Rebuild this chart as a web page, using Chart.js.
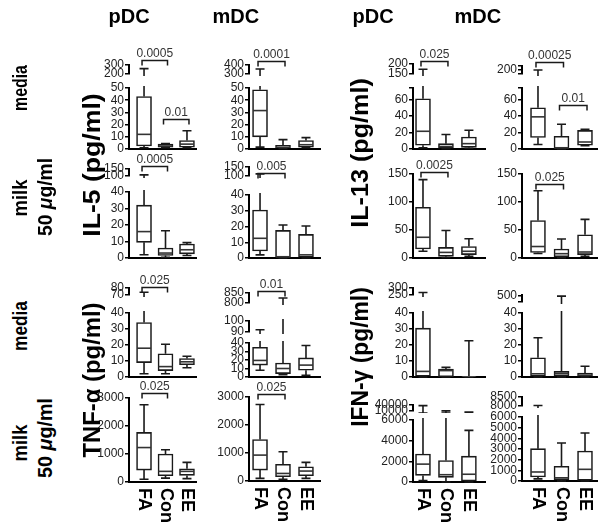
<!DOCTYPE html>
<html><head><meta charset="utf-8">
<script src="https://cdn.jsdelivr.net/npm/chart.js@4.4.1/dist/chart.umd.min.js"></script>
<style>
html,body{margin:0;padding:0;background:#fff;}
#wrap{position:relative;width:604px;height:530px;overflow:hidden;background:#fff;}
#wrap canvas{position:absolute;}
.lbl{position:absolute;left:0;top:0;white-space:nowrap;line-height:1;font-family:"Liberation Sans",Arial,Helvetica,sans-serif;font-weight:bold;color:#000;transform-origin:50% 50%;}
</style></head><body><div id="wrap"></div>
<script>
// ---------- DATA ----------
const GROUPS = ['FA', 'Con', 'EE'];
// each box: [min, q1, median, q3, max]  (pg/ml)
const IL5_PDC_MEDIA  = [[1, 2.5, 12, 43, 260], [1, 1.5, 2.5, 4, 4.5], [1, 1.5, 4, 7, 15]];
const IL5_PDC_MILK   = [[2, 9.5, 16, 32, 108], [0.5, 1.5, 3, 6, 16.5], [1.5, 2.5, 5, 8.5, 9.3]];
const IL5_MDC_MEDIA  = [[1.5, 10, 31.5, 48.5, 355], [0.5, 1, 1.5, 3, 7.7], [1, 1.5, 3.5, 7, 9.3]];
const IL5_MDC_MILK   = [[2, 4.5, 12.5, 30.5, 112], [0, 0.3, 0.8, 17.5, 21], [0, 0.5, 2, 15, 20.3]];
const IL13_PDC_MEDIA = [[1.5, 4.5, 21.5, 61, 174], [0.5, 1, 3, 6.5, 17.5], [1, 2, 6.5, 14.5, 22.7]];
const IL13_PDC_MILK  = [[12, 16, 37, 90.5, 140], [1, 3, 10, 19, 49], [3, 6, 12, 20.5, 34.4]];
const IL13_MDC_MEDIA = [[5.5, 14, 39, 50, 200], [0, 0.5, 1.5, 15.5, 30], [4, 4.5, 8.5, 22.5, 24]];
const IL13_MDC_MILK  = [[8, 10, 20.5, 67, 120], [0.5, 2, 7.7, 16, 34], [3, 6, 10.7, 41.5, 69]];
const TNF_PDC_MEDIA  = [[2, 9, 18, 34, 74], [2, 4, 6.5, 14.5, 20.5], [5.8, 7.7, 9.5, 11.5, 13]];
const TNF_PDC_MILK   = [[100, 425, 1230, 1770, 2760], [140, 225, 380, 1000, 1150], [120, 236, 380, 470, 700]];
const TNF_MDC_MEDIA  = [[8, 14, 19.5, 35, 92], [2.7, 4, 10, 16.5, 825], [2, 8, 14, 22.5, 37]];
const TNF_MDC_MILK   = [[95, 390, 925, 1480, 2730], [60, 155, 270, 595, 1045], [95, 190, 355, 510, 665]];
const IFN_PDC_MEDIA  = [[0, 0, 3.5, 30.5, 268], [0, 0.2, 4, 5, 6], [0, 0, 0, 0.3, 22.7]];
const IFN_PDC_MILK   = [[150, 640, 1730, 2700, 37000], [0, 450, 705, 2085, 10500], [0, 100, 750, 2500, 5000]];
const IFN_MDC_MEDIA  = [[0, 0, 2, 12, 24.5], [0, 0, 2, 3.5, 498], [0, 0, 1.2, 2.5, 6.7]];
const IFN_MDC_MILK   = [[200, 375, 845, 3030, 8030], [0, 125, 300, 1375, 3560], [0, 60, 1094, 2810, 4500]];

// broken-axis segments (lowest first): [min, max]
const IL5_PDC_MEDIA_RANGES  = [[0, 50], [200, 300]];
const IL5_MDC_MEDIA_RANGES  = [[0, 50], [300, 400]];
const IL13_PDC_MEDIA_RANGES = [[0, 74], [150, 200]];
const IL13_MDC_MEDIA_RANGES = [[0, 74], [190, 210]];
const IL5_PDC_MILK_RANGES   = [[0, 40], [100, 150]];
const IL5_MDC_MILK_RANGES   = [[0, 40], [100, 150]];
const IL13_PDC_MILK_RANGES  = [[0, 150]];
const IL13_MDC_MILK_RANGES  = [[0, 150]];
const TNF_PDC_MEDIA_RANGES  = [[0, 40], [70, 80]];
const TNF_MDC_MEDIA_RANGES  = [[0, 40], [90, 100], [800, 850]];
const IFN_PDC_MEDIA_RANGES  = [[0, 40], [250, 300]];
const IFN_MDC_MEDIA_RANGES  = [[0, 40], [460, 505]];
const TNF_PDC_MILK_RANGES   = [[0, 3000]];
const TNF_MDC_MILK_RANGES   = [[0, 3000]];
const IFN_PDC_MILK_RANGES   = [[0, 6000], [10000, 40000]];
const IFN_MDC_MILK_RANGES   = [[0, 6000], [8000, 8500]];

// tick values and tick labels per segment
const T_0_50 = [0, 10, 20, 30, 40, 50];
const T_0_40 = [0, 10, 20, 30, 40];
const T_IL13 = [0, 20, 40, 60, 74];
const L_IL13 = ['0', '20', '40', '60', ''];
const IL5_PDC_MEDIA_TICKS  = [T_0_50, [200, 300]];
const IL5_MDC_MEDIA_TICKS  = [T_0_50, [300, 400]];
const IL13_PDC_MEDIA_TICKS = [T_IL13, [150, 200]];
const IL13_MDC_MEDIA_TICKS = [T_IL13, [190, 200, 210]];
const IL13_MDC_MEDIA_TICKLABELS = [L_IL13, ['', '200', '']];
const IL13_PDC_MEDIA_TICKLABELS = [L_IL13, ['150', '200']];
const IL5_MILK_TICKS       = [T_0_40, [100, 150]];
const IL13_MILK_TICKS      = [[0, 50, 100, 150]];
const TNF_PDC_MEDIA_TICKS  = [T_0_40, [70, 80]];
const TNF_MDC_MEDIA_TICKS  = [T_0_40, [90, 100], [800, 850]];
const IFN_PDC_MEDIA_TICKS  = [T_0_40, [250, 300]];
const IFN_MDC_MEDIA_TICKS  = [T_0_40, [460, 500]];
const IFN_MDC_MEDIA_TICKLABELS = [T_0_40.map(String), ['', '500']];
const TNF_MILK_TICKS       = [[0, 1000, 2000, 3000]];
const IFN_PDC_MILK_TICKS   = [[0, 2000, 4000, 6000], [10000, 40000]];
const IFN_MDC_MILK_TICKS   = [[0, 1000, 2000, 3000, 4000, 5000, 6000], [8000, 8500]];

// significance brackets: groups a-b, on segment seg at value v, p label
const IL5_PDC_MEDIA_SIG  = [{a: 0, b: 1, seg: 1, v: 355, p: '0.0005'}, {a: 1, b: 2, seg: 0, v: 25, p: '0.01'}];
const IL5_MDC_MEDIA_SIG  = [{a: 0, b: 1, seg: 1, v: 444, p: '0.0001'}];
const IL13_PDC_MEDIA_SIG = [{a: 0, b: 1, seg: 1, v: 215, p: '0.025'}];
const IL13_MDC_MEDIA_SIG = [{a: 0, b: 1, seg: 1, v: 221, p: '0.00025'}, {a: 1, b: 2, seg: 0, v: 53, p: '0.01'}];
const IL5_PDC_MILK_SIG   = [{a: 0, b: 1, seg: 1, v: 171, p: '0.0005'}];
const IL5_MDC_MILK_SIG   = [{a: 0, b: 1, seg: 1, v: 117, p: '0.005'}];
const IL13_PDC_MILK_SIG  = [{a: 0, b: 1, seg: 0, v: 154, p: '0.0025'}];
const IL13_MDC_MILK_SIG  = [{a: 0, b: 1, seg: 0, v: 133, p: '0.025'}];
const TNF_PDC_MEDIA_SIG  = [{a: 0, b: 1, seg: 1, v: 82, p: '0.025'}];
const TNF_MDC_MEDIA_SIG  = [{a: 0, b: 1, seg: 2, v: 861, p: '0.01'}];
const TNF_PDC_MILK_SIG   = [{a: 0, b: 1, seg: 0, v: 3168, p: '0.025'}];
const TNF_MDC_MILK_SIG   = [{a: 0, b: 1, seg: 0, v: 3110, p: '0.025'}];

// ---------- LAYOUT ----------
const FONT = '"Liberation Sans", Arial, Helvetica, sans-serif';
Chart.defaults.font.family = FONT;
const COLS = [
  {axis: 129, right: 196, xmin: -0.70, xmax: 2.42},
  {axis: 249, right: 320, xmin: -0.48, xmax: 2.61},
  {axis: 413, right: 485, xmin: -0.435, xmax: 2.70},
  {axis: 522, right: 597, xmin: -0.68, xmax: 2.51}
];
const PANELS = [
  {col: 0, box: IL5_PDC_MEDIA, ranges: IL5_PDC_MEDIA_RANGES, ticks: IL5_PDC_MEDIA_TICKS, sig: IL5_PDC_MEDIA_SIG, px: [[149, 88], [74, 65]]},
  {col: 1, box: IL5_MDC_MEDIA, ranges: IL5_MDC_MEDIA_RANGES, ticks: IL5_MDC_MEDIA_TICKS, sig: IL5_MDC_MEDIA_SIG, px: [[149, 88], [74, 65]]},
  {col: 2, box: IL13_PDC_MEDIA, ranges: IL13_PDC_MEDIA_RANGES, ticks: IL13_PDC_MEDIA_TICKS, labels: IL13_PDC_MEDIA_TICKLABELS, sig: IL13_PDC_MEDIA_SIG, px: [[149, 88], [74, 64]]},
  {col: 3, box: IL13_MDC_MEDIA, ranges: IL13_MDC_MEDIA_RANGES, ticks: IL13_MDC_MEDIA_TICKS, labels: IL13_MDC_MEDIA_TICKLABELS, sig: IL13_MDC_MEDIA_SIG, px: [[149, 88], [74, 66]]},
  {col: 0, box: IL5_PDC_MILK, ranges: IL5_PDC_MILK_RANGES, ticks: IL5_MILK_TICKS, sig: IL5_PDC_MILK_SIG, px: [[258, 192], [176, 169]]},
  {col: 1, box: IL5_MDC_MILK, ranges: IL5_MDC_MILK_RANGES, ticks: IL5_MILK_TICKS, sig: IL5_MDC_MILK_SIG, px: [[258, 195], [176, 167]]},
  {col: 2, box: IL13_PDC_MILK, ranges: IL13_PDC_MILK_RANGES, ticks: IL13_MILK_TICKS, sig: IL13_PDC_MILK_SIG, px: [[258, 174]]},
  {col: 3, box: IL13_MDC_MILK, ranges: IL13_MDC_MILK_RANGES, ticks: IL13_MILK_TICKS, sig: IL13_MDC_MILK_SIG, px: [[258, 174]]},
  {col: 0, box: TNF_PDC_MEDIA, ranges: TNF_PDC_MEDIA_RANGES, ticks: TNF_PDC_MEDIA_TICKS, sig: TNF_PDC_MEDIA_SIG, px: [[377, 313], [295, 288]]},
  {col: 1, box: TNF_MDC_MEDIA, ranges: TNF_MDC_MEDIA_RANGES, ticks: TNF_MDC_MEDIA_TICKS, sig: TNF_MDC_MEDIA_SIG, px: [[377, 343], [332, 321], [303, 293]]},
  {col: 2, box: IFN_PDC_MEDIA, ranges: IFN_PDC_MEDIA_RANGES, ticks: IFN_PDC_MEDIA_TICKS, sig: [], px: [[377, 313], [295, 288]]},
  {col: 3, box: IFN_MDC_MEDIA, ranges: IFN_MDC_MEDIA_RANGES, ticks: IFN_MDC_MEDIA_TICKS, labels: IFN_MDC_MEDIA_TICKLABELS, sig: [], px: [[377, 313], [302, 295]]},
  {col: 0, box: TNF_PDC_MILK, ranges: TNF_PDC_MILK_RANGES, ticks: TNF_MILK_TICKS, sig: TNF_PDC_MILK_SIG, px: [[482, 398]], cats: true},
  {col: 1, box: TNF_MDC_MILK, ranges: TNF_MDC_MILK_RANGES, ticks: TNF_MILK_TICKS, sig: TNF_MDC_MILK_SIG, px: [[481, 397]], cats: true},
  {col: 2, box: IFN_PDC_MILK, ranges: IFN_PDC_MILK_RANGES, ticks: IFN_PDC_MILK_TICKS, sig: [], px: [[482, 420], [411, 405]], cats: true},
  {col: 3, box: IFN_MDC_MILK, ranges: IFN_MDC_MILK_RANGES, ticks: IFN_MDC_MILK_TICKS, sig: [], px: [[481, 417], [406, 397]], cats: true}
];

const wrap = document.getElementById('wrap');
const INK = '#1a1a1a';
const YW = 44, PADR = 8;

function boxPlugin(panel, si, isBottom) {
  return {
    id: 'boxplot' + si,
    beforeDatasetsDraw(chart) {
      const {ctx, chartArea: a, scales: {x, y}} = chart;
      ctx.save();
      ctx.beginPath();
      ctx.rect(a.left, a.top - 2, a.right - a.left + 2, a.bottom - a.top + 4);
      ctx.clip();
      ctx.strokeStyle = INK; ctx.lineWidth = 1.6;
      panel.box.forEach((b, i) => {
        const cx = x.getPixelForValue(i);
        const p = v => y.getPixelForValue(v);
        ctx.beginPath();
        ctx.moveTo(cx, p(b[0])); ctx.lineTo(cx, p(b[1]));
        ctx.moveTo(cx, p(b[3])); ctx.lineTo(cx, p(b[4]));
        ctx.moveTo(cx - 4.5, p(b[0])); ctx.lineTo(cx + 4.5, p(b[0]));
        ctx.moveTo(cx - 4.5, p(b[4])); ctx.lineTo(cx + 4.5, p(b[4]));
        ctx.stroke();
      });
      ctx.restore();
    },
    afterDatasetsDraw(chart) {
      const {ctx, chartArea: a, scales: {x, y}} = chart;
      ctx.save();
      ctx.beginPath();
      ctx.rect(a.left, a.top, a.right - a.left, a.bottom - a.top);
      ctx.clip();
      ctx.strokeStyle = '#333'; ctx.lineWidth = 1.6;
      panel.box.forEach((b, i) => {
        const cx = x.getPixelForValue(i), py = y.getPixelForValue(b[2]);
        ctx.beginPath(); ctx.moveTo(cx - 7, py); ctx.lineTo(cx + 7, py); ctx.stroke();
      });
      ctx.restore();
    },
    afterDraw(chart) {
      const {ctx, chartArea: a, scales: {x, y}} = chart;
      panel.sig.filter(s => s.seg === si).forEach(s => {
        const x1 = x.getPixelForValue(s.a) - 2, x2 = x.getPixelForValue(s.b) + 2;
        const yy = Math.round(y.getPixelForValue(s.v)) + 0.5;
        ctx.save();
        ctx.strokeStyle = INK; ctx.lineWidth = 1.5;
        ctx.beginPath();
        ctx.moveTo(x1, yy + 5); ctx.lineTo(x1, yy); ctx.lineTo(x2, yy); ctx.lineTo(x2, yy + 5);
        ctx.stroke();
        ctx.fillStyle = '#333'; ctx.font = '12px ' + FONT;
        ctx.textAlign = 'center'; ctx.textBaseline = 'bottom';
        ctx.fillText(s.p, (x1 + x2) / 2, yy - 1);
        ctx.restore();
      });
      if (panel.cats && isBottom) {
        ctx.save();
        ctx.fillStyle = '#000'; ctx.font = 'bold 18px ' + FONT;
        GROUPS.forEach((g, i) => {
          ctx.save();
          ctx.translate(x.getPixelForValue(i), a.bottom + 6);
          ctx.rotate(Math.PI / 2);
          ctx.textAlign = 'left'; ctx.textBaseline = 'middle';
          ctx.fillText(g, 0, 0);
          ctx.restore();
        });
        ctx.restore();
      }
    }
  };
}

function makeSegment(panel, si) {
  const col = COLS[panel.col];
  const [yb, yt] = panel.px[si];
  const n = panel.px.length;
  const isBottom = si === 0, isTop = si === n - 1;
  const padT = isTop ? 34 : 10;
  const padB = isBottom ? (panel.cats ? 48 : 10) : 10;
  const w = Math.round(col.right - col.axis) + YW + PADR;
  const h = (yb - yt) + padT + padB;
  const cv = document.createElement('canvas');
  cv.width = w; cv.height = h;
  cv.style.left = (col.axis - YW) + 'px';
  cv.style.top = (yt - padT) + 'px';
  cv.style.width = w + 'px'; cv.style.height = h + 'px';
  wrap.appendChild(cv);
  const r = panel.ranges[si];
  const tv = panel.ticks[si];
  const tl = panel.labels ? panel.labels[si] : tv.map(String);
  new Chart(cv, {
    type: 'bar',
    data: {
      datasets: [{
        data: panel.box.map((b, i) => ({x: i, y: [b[1], b[3]]})),
        backgroundColor: '#fff', borderColor: INK, borderWidth: 1.6,
        borderSkipped: false, barThickness: 15, clip: 1
      }]
    },
    options: {
      responsive: false, animation: false, devicePixelRatio: 1, events: [],
      layout: {padding: {left: 0, right: PADR, top: padT, bottom: padB}},
      plugins: {legend: {display: false}, tooltip: {enabled: false}},
      scales: {
        x: {
          type: 'linear', min: col.xmin, max: col.xmax, display: isBottom,
          offset: false, bounds: 'data', grace: 0,
          grid: {display: false, offset: false}, ticks: {display: false},
          border: {display: isBottom, color: '#000', width: 2},
          afterBuildTicks: s => { s.ticks = GROUPS.map((g, i) => ({value: i})); s.min = col.xmin; s.max = col.xmax; },
          afterFit: s => { s.height = 0; }
        },
        y: {
          type: 'linear', min: r[0], max: r[1], bounds: 'data', grace: 0,
          afterBuildTicks: s => { s.ticks = tv.map(v => ({value: v})); s.min = r[0]; s.max = r[1]; },
          ticks: {autoSkip: false, padding: 1, color: '#222', font: {size: 12}, callback: (v, i) => tl[i]},
          grid: {display: true, drawOnChartArea: false, drawTicks: true, tickLength: 4, color: '#000', lineWidth: 1.5},
          border: {display: true, color: '#000', width: 2},
          afterFit: s => { s.width = YW; }
        }
      }
    },
    plugins: [boxPlugin(panel, si, isBottom)]
  });
}

PANELS.forEach(p => p.px.forEach((_, si) => makeSegment(p, si)));

// ---------- TEXT LABELS ----------
function label(html, cx, cy, size, rot, len) {
  const d = document.createElement('div');
  d.className = 'lbl';
  d.innerHTML = html;
  d.style.fontSize = size + 'px';
  wrap.appendChild(d);
  const w = d.offsetWidth, h = d.offsetHeight;
  const sx = len ? len / w : 1;
  d.style.transform = `translate(${cx - w / 2}px, ${cy - h / 2}px) rotate(${rot}deg) scaleX(${sx})`;
}
label('pDC', 129, 16, 20, 0);
label('mDC', 236, 16, 20, 0);
label('pDC', 373, 16, 20, 0);
label('mDC', 478, 16, 20, 0);
label('media', 20, 88, 20, -90, 46);
label('milk', 20, 198, 20, -90, 37);
label('50 <i>&mu;</i>g/ml', 45, 197, 20, -90, 78);
label('media', 20, 326, 20, -90, 50);
label('milk', 20, 443, 20, -90, 37);
label('50 <i>&mu;</i>g/ml', 45, 438, 20, -90, 80);
label('IL-5 (pg/ml)', 92, 165, 24, -90, 143);
label('TNF-&alpha; (pg/ml)', 92, 380, 24, -90, 155);
label('IL-13 (pg/ml)', 360, 153, 24, -90, 150);
label('IFN-&gamma; (pg/ml)', 360, 357, 24, -90, 140);
</script></body></html>
